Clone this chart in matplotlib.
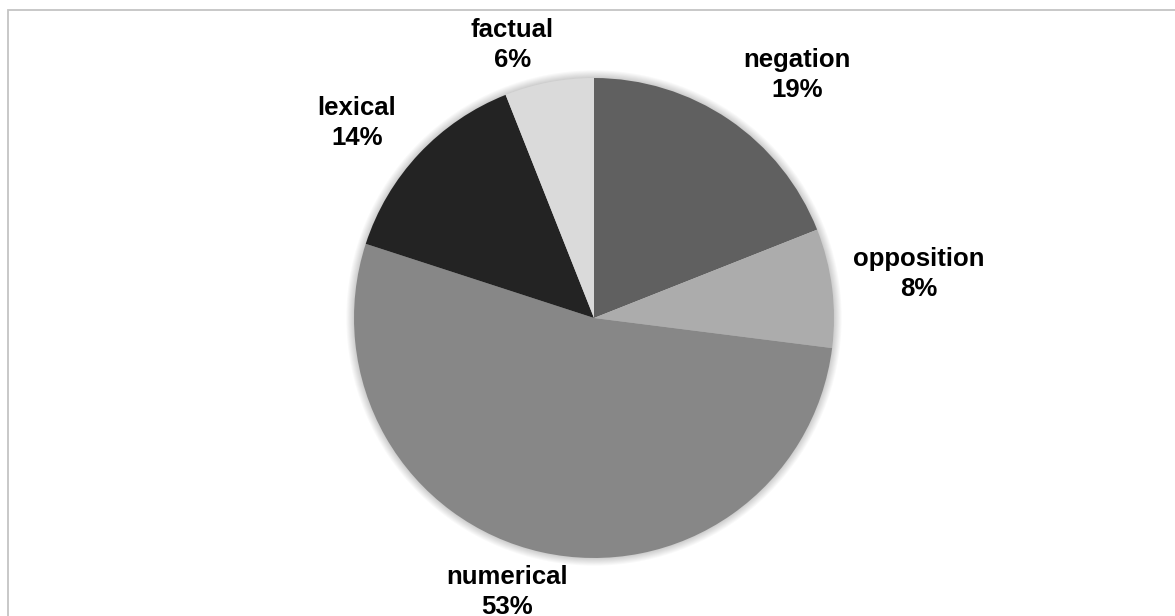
import numpy as np
import matplotlib
matplotlib.use("Agg")
import matplotlib.pyplot as plt
from matplotlib.patches import Circle, Rectangle

categories = ["negation", "opposition", "numerical", "lexical", "factual"]
shares = [19, 8, 53, 14, 6]
colors = ["#606060", "#acacac", "#878787", "#232323", "#dadada"]
# label placement: radius factor and angular shift (deg) from wedge middle
label_radius = [1.319, 1.366, 1.198, 1.279, 1.188]
label_shift = [-5.7, 0.5, -5.0, 3.8, 5.9]

W, H, DPI = 1175, 616, 100
fig = plt.figure(figsize=(W / DPI, H / DPI), dpi=DPI)
fig.patch.set_facecolor("white")

R = 240.0
cx, cy = 594.0, H - 318.0
ax = fig.add_axes([0, 0, 1, 1])

# soft shadow
for k in range(8):
    ax.add_patch(Circle((0, 0), 1.0 + 0.004 * (k + 1), color="black",
                        alpha=0.022, lw=0, zorder=0))

wedges, _ = ax.pie(shares, colors=colors, startangle=90, counterclock=False,
                   radius=1.0, wedgeprops=dict(linewidth=0))

ax.set_xlim(-cx / R, (W - cx) / R)
ax.set_ylim(-cy / R, (H - cy) / R)
ax.set_aspect("equal", adjustable="box")
ax.axis("off")

for w, cat, val, rf, sh in zip(wedges, categories, shares, label_radius, label_shift):
    ang = np.deg2rad((w.theta1 + w.theta2) / 2 + sh)
    ax.text(rf * np.cos(ang), rf * np.sin(ang), f"{cat}\n{val}%",
            ha="center", va="center", fontsize=18.5, fontweight="bold",
            family="Liberation Sans", color="#000000", linespacing=1.3)

# outer frame (top and left visible)
fig.add_artist(Rectangle((7.5 / W, -0.1), 1.2, (H - 10) / H + 0.1,
                         transform=fig.transFigure, fill=False,
                         edgecolor="#c4c4c4", linewidth=1.3))

fig.savefig("out.png", dpi=DPI, facecolor="white")
